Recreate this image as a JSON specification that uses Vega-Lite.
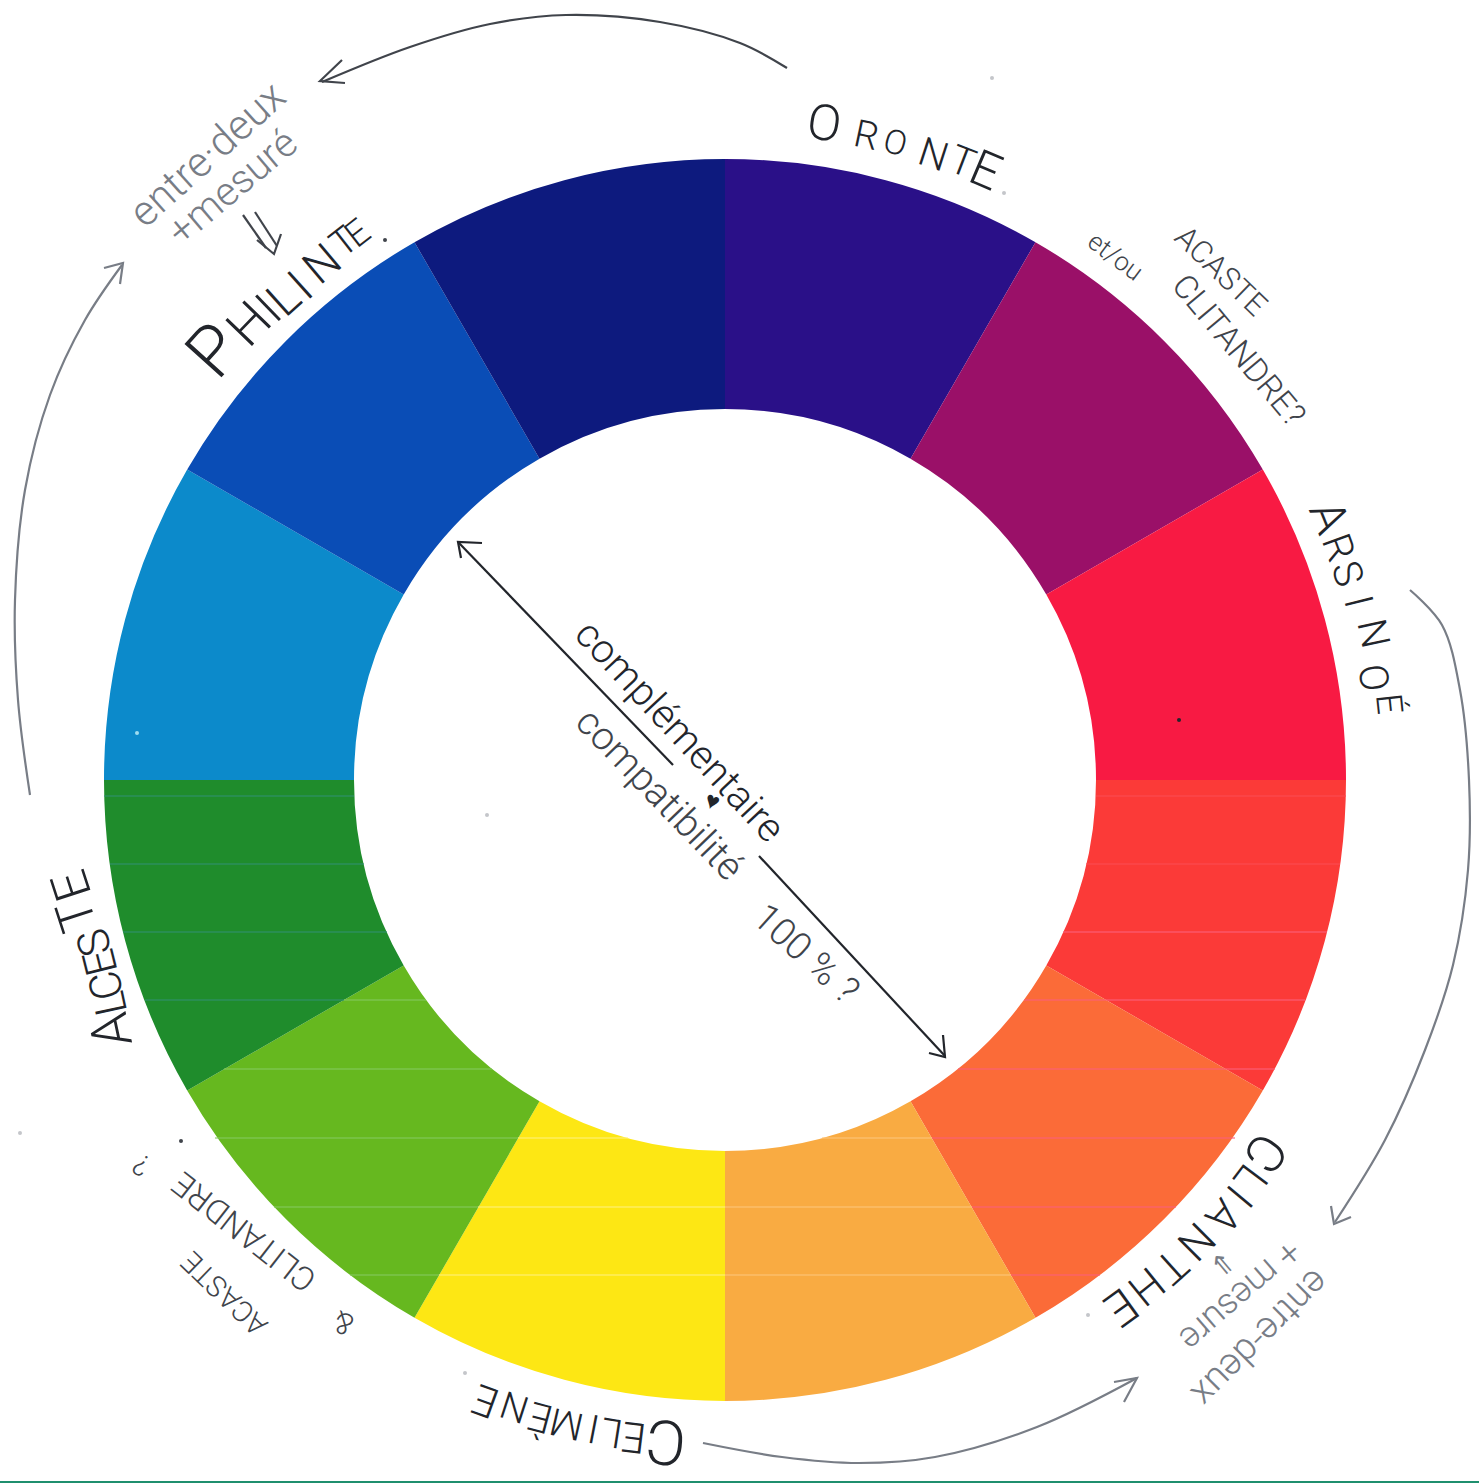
{"$schema":"https://vega.github.io/schema/vega-lite/v6.json","width":1479,"height":1483,"padding":0,"autosize":{"type":"none"},"background":"#ffffff","config":{"view":{"stroke":null}},
"datasets":{
"wheel":[{"name":"indigo","a0":0,"a1":30,"cx":725,"cy":780},{"name":"magenta","a0":30,"a1":60,"cx":725,"cy":780},{"name":"red","a0":60,"a1":90,"cx":725,"cy":780},{"name":"vermilion","a0":90,"a1":120,"cx":725,"cy":780},{"name":"orange","a0":120,"a1":150,"cx":725,"cy":780},{"name":"amber","a0":150,"a1":180,"cx":725,"cy":780},{"name":"yellow","a0":180,"a1":210,"cx":725,"cy":780},{"name":"lime","a0":210,"a1":240,"cx":725,"cy":780},{"name":"green","a0":240,"a1":270,"cx":725,"cy":780},{"name":"sky","a0":270,"a1":300,"cx":725,"cy":780},{"name":"blue","a0":300,"a1":330,"cx":725,"cy":780},{"name":"navy","a0":330,"a1":360,"cx":725,"cy":780}],
"stripes":[
{"x":104,"x2":354,"y":796,"tone":"teal"},{"x":110,"x2":364,"y":864,"tone":"teal"},{"x":123,"x2":387,"y":932,"tone":"teal"},{"x":145,"x2":344,"y":1000,"tone":"teal"},{"x":344,"x2":426,"y":1000,"tone":"limeline"},
{"x":1096,"x2":1346,"y":796,"tone":"redline"},{"x":1086,"x2":1340,"y":864,"tone":"redline"},{"x":1063,"x2":1327,"y":932,"tone":"pinkline"},{"x":1024,"x2":1305,"y":1000,"tone":"pinkline"},
{"x":224,"x2":492,"y":1069,"tone":"limeline"},{"x":958,"x2":1275,"y":1069,"tone":"pinkline"},
{"x":215,"x2":518,"y":1138,"tone":"limeline"},{"x":518,"x2":628,"y":1138,"tone":"yellowline"},{"x":822,"x2":932,"y":1138,"tone":"amberline"},{"x":932,"x2":1235,"y":1138,"tone":"pinkline"},
{"x":274,"x2":478,"y":1207,"tone":"limeline"},{"x":478,"x2":725,"y":1207,"tone":"yellowline"},{"x":725,"x2":972,"y":1207,"tone":"amberline"},{"x":972,"x2":1176,"y":1207,"tone":"pinkline"},
{"x":350,"x2":439,"y":1275,"tone":"limeline"},{"x":439,"x2":725,"y":1275,"tone":"yellowline"},{"x":725,"x2":1011,"y":1275,"tone":"amberline"},{"x":1011,"x2":1100,"y":1275,"tone":"pinkline"}],
"edge":[{"x":0,"x2":1479,"y":1482,"tone":"edge"}],
"curves":[
{"s":"top","i":0,"x":787,"y":68,"tone":"ink2"},{"s":"top","i":1,"x":740,"y":43,"tone":"ink2"},{"s":"top","i":2,"x":660,"y":22,"tone":"ink2"},{"s":"top","i":3,"x":566,"y":15,"tone":"ink2"},{"s":"top","i":4,"x":490,"y":24,"tone":"ink2"},{"s":"top","i":5,"x":410,"y":47,"tone":"ink2"},{"s":"top","i":6,"x":322,"y":82,"tone":"ink2"},
{"s":"left","i":0,"x":30,"y":795,"tone":"gray"},{"s":"left","i":1,"x":18,"y":700,"tone":"gray"},{"s":"left","i":2,"x":15,"y":600,"tone":"gray"},{"s":"left","i":3,"x":25,"y":490,"tone":"gray"},{"s":"left","i":4,"x":50,"y":395,"tone":"gray"},{"s":"left","i":5,"x":85,"y":320,"tone":"gray"},{"s":"left","i":6,"x":122,"y":265,"tone":"gray"},
{"s":"right","i":0,"x":1410,"y":590,"tone":"gray"},{"s":"right","i":1,"x":1442,"y":625,"tone":"gray"},{"s":"right","i":2,"x":1460,"y":690,"tone":"gray"},{"s":"right","i":3,"x":1469,"y":780,"tone":"gray"},{"s":"right","i":4,"x":1468,"y":870,"tone":"gray"},{"s":"right","i":5,"x":1453,"y":965,"tone":"gray"},{"s":"right","i":6,"x":1425,"y":1050,"tone":"gray"},{"s":"right","i":7,"x":1385,"y":1140,"tone":"gray"},{"s":"right","i":8,"x":1335,"y":1222,"tone":"gray"},
{"s":"bottom","i":0,"x":703,"y":1443,"tone":"gray"},{"s":"bottom","i":1,"x":782,"y":1457,"tone":"gray"},{"s":"bottom","i":2,"x":859,"y":1463,"tone":"gray"},{"s":"bottom","i":3,"x":935,"y":1457,"tone":"gray"},{"s":"bottom","i":4,"x":1037,"y":1427,"tone":"gray"},{"s":"bottom","i":5,"x":1137,"y":1378,"tone":"gray"}],
"segments":[
{"s":"h1","i":0,"x":342,"y":60,"tone":"ink2"},{"s":"h1","i":1,"x":320,"y":81,"tone":"ink2"},{"s":"h1","i":2,"x":345,"y":83,"tone":"ink2"},
{"s":"h2","i":0,"x":104,"y":268,"tone":"gray"},{"s":"h2","i":1,"x":123,"y":263,"tone":"gray"},{"s":"h2","i":2,"x":120,"y":284,"tone":"gray"},
{"s":"h3","i":0,"x":1331,"y":1206,"tone":"gray"},{"s":"h3","i":1,"x":1334,"y":1224,"tone":"gray"},{"s":"h3","i":2,"x":1351,"y":1217,"tone":"gray"},
{"s":"h4","i":0,"x":1114,"y":1382,"tone":"gray"},{"s":"h4","i":1,"x":1137,"y":1378,"tone":"gray"},{"s":"h4","i":2,"x":1124,"y":1402,"tone":"gray"},
{"s":"m1","i":0,"x":459,"y":543,"tone":"ink"},{"s":"m1","i":1,"x":673,"y":765,"tone":"ink"},
{"s":"m2","i":0,"x":759,"y":856,"tone":"ink"},{"s":"m2","i":1,"x":945,"y":1056,"tone":"ink"},
{"s":"m3","i":0,"x":461,"y":558,"tone":"ink"},{"s":"m3","i":1,"x":458,"y":542,"tone":"ink"},{"s":"m3","i":2,"x":482,"y":543,"tone":"ink"},
{"s":"m4","i":0,"x":929,"y":1053,"tone":"ink"},{"s":"m4","i":1,"x":945,"y":1057,"tone":"ink"},{"s":"m4","i":2,"x":943,"y":1035,"tone":"ink"},
{"s":"d1","i":0,"x":243,"y":215,"tone":"ink2"},{"s":"d1","i":1,"x":266,"y":248,"tone":"ink2"},
{"s":"d2","i":0,"x":255,"y":212,"tone":"ink2"},{"s":"d2","i":1,"x":277,"y":246,"tone":"ink2"},
{"s":"d3","i":0,"x":257,"y":240,"tone":"ink2"},{"s":"d3","i":1,"x":274,"y":254,"tone":"ink2"},{"s":"d3","i":2,"x":281,"y":234,"tone":"ink2"}],
"specks":[{"x":1179,"y":720,"tone":"ink"},{"x":137,"y":733,"tone":"speckblue"},{"x":20,"y":1133,"tone":"speckgray"},{"x":992,"y":78,"tone":"speckgray"},{"x":487,"y":815,"tone":"speckgray"},{"x":181,"y":1141,"tone":"ink2"},{"x":1004,"y":193,"tone":"speckgray"},{"x":465,"y":1373,"tone":"speckgray"},{"x":1088,"y":1315,"tone":"speckgray"},{"x":385,"y":240,"tone":"ink2"}],
"caps":[
{"t":"O","x":824,"y":125,"a":9,"s":50,"tone":"ink"},{"t":"R","x":866,"y":137,"a":12,"s":38,"tone":"ink"},{"t":"O","x":895,"y":144,"a":15,"s":34,"tone":"ink"},{"t":"N","x":933,"y":156,"a":18,"s":40,"tone":"ink"},{"t":"T","x":962,"y":163,"a":21,"s":40,"tone":"ink"},{"t":"E","x":985,"y":172,"a":23,"s":50,"tone":"ink"},
{"t":"ACASTE","x":1220,"y":272,"a":44,"s":31,"tone":"ink2"},{"t":"CLITANDRE?","x":1238,"y":351,"a":50,"s":33,"tone":"ink2"},
{"t":"A","x":1327,"y":518,"a":68,"s":48,"tone":"ink"},{"t":"R","x":1337,"y":548,"a":70,"s":40,"tone":"ink"},{"t":"S","x":1346,"y":574,"a":72,"s":40,"tone":"ink"},{"t":"I","x":1357,"y":602,"a":76,"s":40,"tone":"ink"},{"t":"N","x":1372,"y":634,"a":78,"s":40,"tone":"ink"},{"t":"O","x":1372,"y":678,"a":82,"s":40,"tone":"ink"},{"t":"É","x":1388,"y":704,"a":84,"s":36,"tone":"ink"},
{"t":"C","x":1264,"y":1152,"a":125,"s":52,"tone":"ink"},{"t":"L","x":1249,"y":1178,"a":127,"s":44,"tone":"ink"},{"t":"I","x":1238,"y":1195,"a":130,"s":44,"tone":"ink"},{"t":"A","x":1222,"y":1215,"a":132,"s":44,"tone":"ink"},{"t":"N","x":1195,"y":1240,"a":135,"s":44,"tone":"ink"},{"t":"T","x":1170,"y":1265,"a":138,"s":44,"tone":"ink"},{"t":"H","x":1145,"y":1285,"a":141,"s":44,"tone":"ink"},{"t":"E","x":1120,"y":1305,"a":144,"s":48,"tone":"ink"},
{"t":"C","x":666,"y":1440,"a":-175,"s":62,"tone":"ink"},{"t":"E","x":634,"y":1436,"a":-173,"s":42,"tone":"ink"},{"t":"L","x":612,"y":1431,"a":-171,"s":40,"tone":"ink"},{"t":"I","x":594,"y":1427,"a":-169,"s":40,"tone":"ink"},{"t":"M","x":567,"y":1422,"a":-167,"s":38,"tone":"ink"},{"t":"È","x":541,"y":1416,"a":-165,"s":40,"tone":"ink"},{"t":"N","x":515,"y":1405,"a":-162,"s":38,"tone":"ink"},{"t":"E","x":486,"y":1400,"a":-160,"s":42,"tone":"ink"},
{"t":"ACASTE","x":225,"y":1293,"a":-136,"s":29,"tone":"ink2"},{"t":"CLITANDRE","x":245,"y":1231,"a":-142,"s":33,"tone":"ink2"},{"t":"?","x":142,"y":1164,"a":-150,"s":30,"tone":"ink2"},{"t":"&","x":344,"y":1322,"a":-155,"s":30,"tone":"ink2"},
{"t":"A","x":113,"y":1030,"a":-102,"s":54,"tone":"ink"},{"t":"L","x":112,"y":1003,"a":-102,"s":44,"tone":"ink"},{"t":"C","x":108,"y":985,"a":-104,"s":44,"tone":"ink"},{"t":"E","x":102,"y":962,"a":-104,"s":44,"tone":"ink"},{"t":"S","x":96,"y":942,"a":-106,"s":44,"tone":"ink"},{"t":"T","x":78,"y":915,"a":-108,"s":50,"tone":"ink"},{"t":"E","x":73,"y":885,"a":-108,"s":50,"tone":"ink"},
{"t":"P","x":216,"y":352,"a":-48,"s":70,"tone":"ink"},{"t":"H","x":250,"y":325,"a":-46,"s":52,"tone":"ink"},{"t":"I","x":270,"y":310,"a":-44,"s":48,"tone":"ink"},{"t":"L","x":285,"y":300,"a":-42,"s":48,"tone":"ink"},{"t":"I","x":302,"y":287,"a":-42,"s":48,"tone":"ink"},{"t":"N","x":323,"y":265,"a":-40,"s":46,"tone":"ink"},{"t":"T","x":345,"y":243,"a":-38,"s":38,"tone":"ink"},{"t":"E","x":358,"y":234,"a":-38,"s":36,"tone":"ink"}],
"notes":[
{"t":"et/ou","x":1115,"y":257,"a":37,"s":26,"tone":"ink2"},
{"t":"entre·deux","x":208,"y":155,"a":-42,"s":42,"tone":"gray"},{"t":"+mesuré","x":233,"y":188,"a":-40,"s":40,"tone":"gray"},
{"t":"entre-deux","x":1259,"y":1337,"a":135,"s":38,"tone":"gray"},{"t":"+ mesure","x":1240,"y":1295,"a":139,"s":36,"tone":"gray"},{"t":"⇓","x":1221,"y":1263,"a":140,"s":28,"tone":"gray"},
{"t":"complémentaire","x":679,"y":732,"a":47,"s":40,"tone":"ink"},{"t":"compatibilité","x":659,"y":795,"a":46,"s":39,"tone":"ink2"},{"t":"100 % ?","x":805,"y":955,"a":42,"s":38,"tone":"ink2"},{"t":"♥","x":712,"y":802,"a":20,"s":24,"tone":"ink"}]
},
"encoding":{
"x":{"field":"x","type":"quantitative","scale":{"domain":[0,1479],"nice":false,"zero":false},"axis":null},
"y":{"field":"y","type":"quantitative","scale":{"domain":[1483,0],"nice":false,"zero":false},"axis":null},
"color":{"field":"tone","type":"nominal","legend":null,"scale":{"domain":["indigo","magenta","red","vermilion","orange","amber","yellow","lime","green","sky","blue","navy","teal","limeline","redline","pinkline","yellowline","amberline","edge","ink","ink2","gray","speckblue","speckgray"],"range":["#2a1088","#9a1068","#f81a43","#fb3a38","#fb6b38","#f9ab42","#fde714","#66b81f","#1f8c2c","#0c8acb","#0a4db6","#0d1a7e","#2f8f70","#84c95c","#fb4a52","#fb5f7a","#fff07a","#fdc47a","#1f8f6e","#22252b","#40444b","#787d86","#9fdcf0","#c4c6ca"]}}
},
"layer":[
{"data":{"name":"wheel"},"mark":{"type":"arc","radius":621,"radius2":371},"encoding":{
"x":{"field":"cx","type":"quantitative"},"y":{"field":"cy","type":"quantitative"},
"theta":{"field":"a0","type":"quantitative","stack":null,"scale":{"domain":[0,360],"range":[0,6.283185]}},"theta2":{"field":"a1"},
"color":{"field":"name","type":"nominal"}}},
{"data":{"name":"stripes"},"mark":{"type":"rule","strokeWidth":2,"opacity":0.55},"encoding":{"x2":{"field":"x2"}}},
{"data":{"name":"edge"},"mark":{"type":"rule","strokeWidth":2},"encoding":{"x2":{"field":"x2"}}},
{"data":{"name":"curves"},"mark":{"type":"line","interpolate":"catmull-rom","strokeWidth":2.2},"encoding":{"detail":{"field":"s"},"order":{"field":"i","type":"quantitative"}}},
{"data":{"name":"segments"},"mark":{"type":"line","strokeWidth":2.2},"encoding":{"detail":{"field":"s"},"order":{"field":"i","type":"quantitative"}}},
{"data":{"name":"specks"},"mark":{"type":"point","filled":true,"size":16,"opacity":1}},
{"data":{"name":"caps"},"mark":{"type":"text","font":"Roboto","fontWeight":300,"align":"center","baseline":"middle"},"encoding":{"text":{"field":"t"},"angle":{"field":"a","type":"quantitative","scale":null},"size":{"field":"s","type":"quantitative","scale":null}}},
{"data":{"name":"notes"},"mark":{"type":"text","font":"Roboto","fontWeight":300,"align":"center","baseline":"middle"},"encoding":{"text":{"field":"t"},"angle":{"field":"a","type":"quantitative","scale":null},"size":{"field":"s","type":"quantitative","scale":null}}}
]}
